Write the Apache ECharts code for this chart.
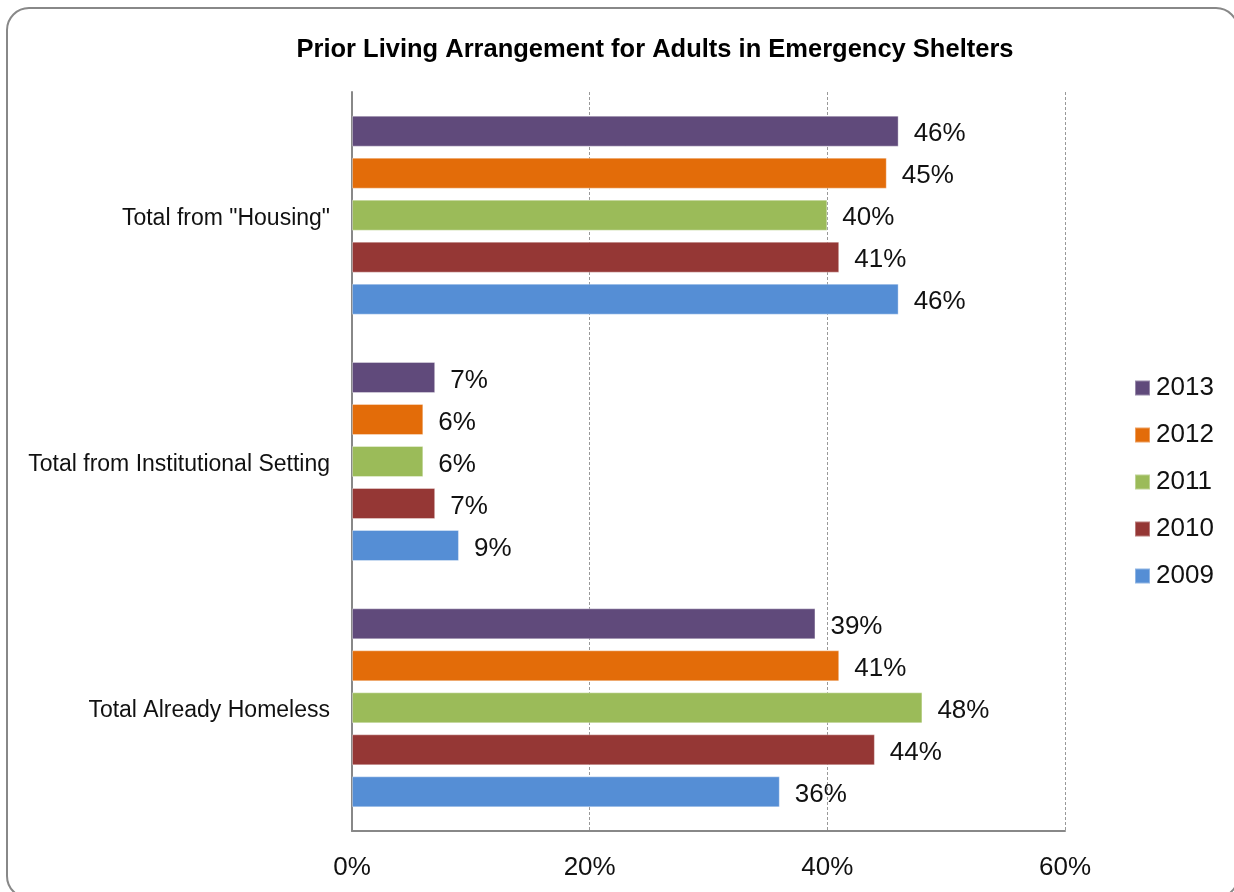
<!DOCTYPE html>
<html>
<head>
<meta charset="utf-8">
<script src="https://cdn.jsdelivr.net/npm/echarts@6/dist/echarts.min.js"></script>
<style>
  html, body { margin: 0; padding: 0; background: #fff; }
  #chart { width: 1234px; height: 892px; }
</style>
</head>
<body>
<div id="chart"></div>
<script>
// Categories listed bottom-to-top along the category axis
const categories = ['Total Already Homeless', 'Total from Institutional Setting', 'Total from "Housing"'];
// Series listed top-to-bottom within each category band
const years = ['2013', '2012', '2011', '2010', '2009'];
const values2013 = [39, 7, 46];
const values2012 = [41, 6, 45];
const values2011 = [48, 6, 40];
const values2010 = [44, 7, 41];
const values2009 = [36, 9, 46];
const xTicks = [0, 20, 40, 60];

const seriesValues = [values2013, values2012, values2011, values2010, values2009];
const colors = ['#604A7B', '#E36C09', '#9BBB59', '#953735', '#558ED5'];
const fontFamily = '"Liberation Sans", Arial, sans-serif';

const chart = echarts.init(document.getElementById('chart'));
chart.setOption({
  animation: false,
  backgroundColor: '#fff',
  title: {
    text: 'Prior Living Arrangement for Adults in Emergency Shelters',
    left: 650,
    textAlign: 'center',
    top: 32,
    textStyle: { fontFamily, fontSize: 25.5, fontWeight: 'bold', color: '#000' }
  },
  graphic: [{
    type: 'rect',
    shape: { x: 7, y: 8, width: 1231, height: 890, r: 22 },
    style: { fill: 'none', stroke: '#888', lineWidth: 2 },
    silent: true
  }],
  legend: {
    orient: 'vertical',
    left: 1134,
    top: 375,
    padding: 0,
    data: years,
    icon: 'rect',
    itemWidth: 15,
    itemHeight: 15,
    itemGap: 21,
    textStyle: { fontFamily, fontSize: 26, lineHeight: 26, color: '#111', padding: [0, 0, 0, 1] }
  },
  grid: { left: 352, right: 169, top: 92, bottom: 61, containLabel: false },
  xAxis: {
    type: 'value',
    min: xTicks[0],
    max: xTicks[xTicks.length - 1],
    interval: 20,
    axisLine: { show: true, lineStyle: { color: '#888', width: 2 } },
    axisTick: { show: false },
    axisLabel: { fontFamily, fontSize: 26, color: '#111', margin: 24, formatter: v => v + '%' },
    splitLine: { show: true, lineStyle: { color: '#999', type: [3, 2], width: 1 } }
  },
  yAxis: {
    type: 'category',
    data: categories,
    axisLine: { show: true, lineStyle: { color: '#888', width: 2 } },
    axisTick: { show: false },
    axisLabel: { fontFamily, fontSize: 23, color: '#111', margin: 22, verticalAlign: 'top', lineHeight: 6 }
  },
  series: years.map((y, i) => ({
    name: y,
    type: 'bar',
    data: seriesValues[i],
    barWidth: 31,
    barGap: '35.5%',
    itemStyle: { color: colors[i], borderColor: 'rgba(255,255,255,0.35)', borderWidth: 1 },
    label: {
      show: true,
      position: 'right',
      distance: 15,
      offset: [0, 3],
      formatter: p => p.value + '%',
      fontFamily,
      fontSize: 26,
      color: '#111'
    }
  }))
});
</script>
</body>
</html>
